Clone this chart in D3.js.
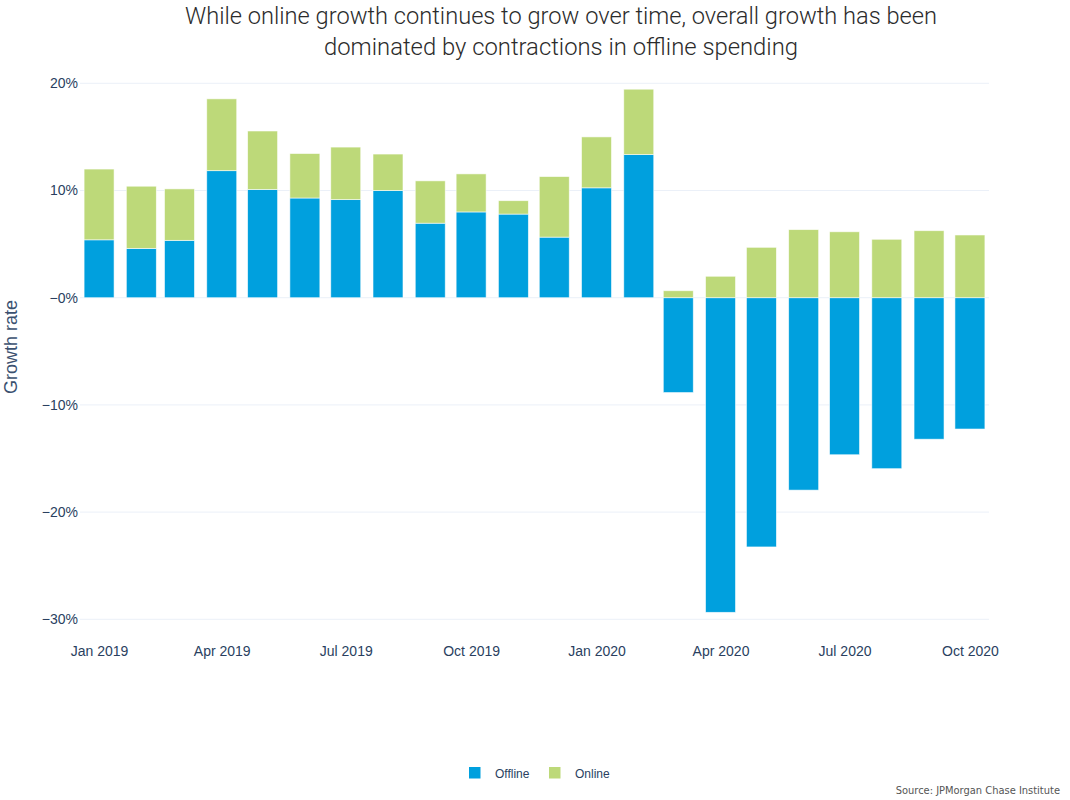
<!DOCTYPE html>
<html>
<head>
<meta charset="utf-8">
<script src="https://cdn.jsdelivr.net/npm/d3@7"></script>
<style>
  body { margin: 0; background: #fff; }
  svg { display: block; }
</style>
</head>
<body>
<svg id="chart"></svg>
<script>
// monthly growth, in percent
const months = ['2019-01', '2019-02', '2019-03', '2019-04', '2019-05', '2019-06', '2019-07', '2019-08',
  '2019-09', '2019-10', '2019-11', '2019-12', '2020-01', '2020-02', '2020-03', '2020-04',
  '2020-05', '2020-06', '2020-07', '2020-08', '2020-09', '2020-10'];
const offline = [5.4, 4.6, 5.35, 11.85, 10.1, 9.3, 9.15, 10.0, 6.95, 8.0, 7.8, 5.65,
  10.25, 13.35, -8.85, -29.35, -23.25, -17.95, -14.65, -15.95, -13.2, -12.25];
const online = [6.6, 5.8, 4.8, 6.7, 5.45, 4.15, 4.9, 3.4, 3.95, 3.55, 1.25, 5.65,
  4.75, 6.1, 0.65, 2.0, 4.7, 6.35, 6.15, 5.45, 6.25, 5.85];

const seriesNames = ['Offline', 'Online'];
const colors = ['#00a0de', '#bdd979'];

const yTicks = [-30, -20, -10, 0, 10, 20];
const yTickLabels = ['\u221230%', '\u221220%', '\u221210%', '\u22120%', '10%', '20%'];
const xTickMonths = ['2019-01', '2019-04', '2019-07', '2019-10', '2020-01', '2020-04', '2020-07', '2020-10'];

const width = 1070;
const height = 800;
const plot = { left: 80, right: 989, top: 83.3, bottom: 619.3 };
const sans = '"Liberation Sans", Arial, sans-serif';

const parseMonth = d3.timeParse('%Y-%m');

const rows = months.map((m, i) => ({ date: parseMonth(m), Offline: offline[i], Online: online[i] }));

const svg = d3.select('#chart')
  .attr('width', width)
  .attr('height', height);

const firstDate = rows[0].date;
const lastDate = rows[rows.length - 1].date;

const xScale = d3.scaleTime()
  .domain([d3.timeDay.offset(firstDate, -14), d3.timeDay.offset(lastDate, 14)])
  .range([plot.left, plot.right]);

const yScale = d3.scaleLinear()
  .domain([-30, 20])
  .range([plot.bottom, plot.top]);

// bar width: 80% of the shortest month
const barW = xScale(d3.timeDay.offset(firstDate, 28 * 0.8)) - xScale(firstDate);

// gridlines
svg.append('g')
  .selectAll('line')
  .data(yTicks)
  .enter()
  .append('line')
  .attr('x1', plot.left)
  .attr('x2', plot.right)
  .attr('y1', d => yScale(d))
  .attr('y2', d => yScale(d))
  .attr('stroke', '#ebf0f8')
  .attr('stroke-width', 1);

// stacked bars, positives and negatives stack apart
const stacked = d3.stack()
  .keys(seriesNames)
  .offset(d3.stackOffsetDiverging)(rows);

svg.append('g')
  .selectAll('g')
  .data(stacked)
  .enter()
  .append('g')
  .attr('fill', (d, i) => colors[i])
  .selectAll('rect')
  .data(d => d)
  .enter()
  .append('rect')
  .attr('x', d => xScale(d.data.date) - barW / 2)
  .attr('width', barW)
  .attr('y', d => yScale(Math.max(d[0], d[1])))
  .attr('height', d => Math.abs(yScale(d[0]) - yScale(d[1])))
  .attr('stroke', '#ffffff')
  .attr('stroke-opacity', 0.7)
  .attr('stroke-width', 0.8);

// axes
const yAxis = svg.append('g')
  .attr('transform', `translate(${plot.left},0)`)
  .call(d3.axisLeft(yScale)
    .tickValues(yTicks)
    .tickSize(0)
    .tickPadding(2)
    .tickFormat((d, i) => yTickLabels[i]));

const xAxis = svg.append('g')
  .attr('transform', 'translate(0,643)')
  .call(d3.axisBottom(xScale)
    .tickValues(xTickMonths.map(parseMonth))
    .tickSize(0)
    .tickPadding(3)
    .tickFormat(d3.timeFormat('%b %Y')));

[xAxis, yAxis].forEach(ax => {
  ax.select('.domain').remove();
  ax.selectAll('text')
    .attr('fill', '#2a3f5f')
    .style('font-family', sans)
    .style('font-size', '14px');
});

// y title
svg.append('text')
  .attr('transform', 'translate(17,347) rotate(-90)')
  .attr('text-anchor', 'middle')
  .attr('fill', '#3b5170')
  .style('font-family', sans)
  .style('font-size', '18px')
  .text('Growth rate');

// title
const titleLines = [
  'While online growth continues to grow over time, overall growth has been',
  'dominated by contractions in offline spending'
];
const titleWidths = [752, 474];
svg.append('g')
  .selectAll('text')
  .data(titleLines)
  .enter()
  .append('text')
  .attr('x', 561)
  .attr('y', (d, i) => 24 + i * 31)
  .attr('text-anchor', 'middle')
  .attr('fill', '#2b2b2b')
  .attr('textLength', (d, i) => titleWidths[i])
  .attr('lengthAdjust', 'spacingAndGlyphs')
  .style('font-family', 'Roboto, sans-serif')
  .style('font-weight', 300)
  .style('font-size', '24px')
  .text(d => d);

// legend
const legend = svg.append('g')
  .attr('transform', 'translate(469,773)');

const legendItems = legend.selectAll('g')
  .data(seriesNames)
  .enter()
  .append('g')
  .attr('transform', (d, i) => `translate(${i * 80},0)`);

legendItems.append('rect')
  .attr('x', 0)
  .attr('y', -6)
  .attr('width', 11.5)
  .attr('height', 11.5)
  .attr('fill', (d, i) => colors[i]);

legendItems.append('text')
  .attr('x', 26)
  .attr('y', 4.5)
  .attr('fill', '#2a3f5f')
  .style('font-family', sans)
  .style('font-size', '12px')
  .text(d => d);

// source note
svg.append('text')
  .attr('x', 1060)
  .attr('y', 794)
  .attr('text-anchor', 'end')
  .attr('fill', '#555')
  .style('font-family', '"Liberation Sans Narrow", "DejaVu Sans Condensed", sans-serif')
  .style('font-size', '11px')
  .text('Source: JPMorgan Chase Institute');
</script>
</body>
</html>
